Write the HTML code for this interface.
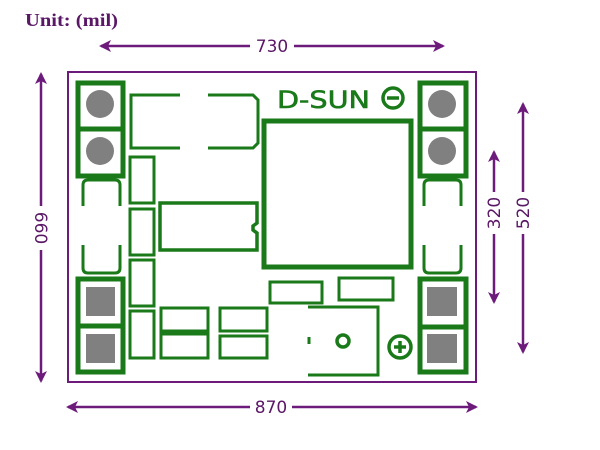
<!DOCTYPE html>
<html><head><meta charset="utf-8"><style>
html,body{margin:0;padding:0;background:#fff;width:600px;height:450px;overflow:hidden}
</style></head><body>
<svg width="600" height="450" viewBox="0 0 600 450" xmlns="http://www.w3.org/2000/svg">
<text x="25" y="26" font-family="Liberation Serif, serif" font-size="18" font-weight="bold" fill="#5a1766" textLength="93" lengthAdjust="spacingAndGlyphs">Unit:  (mil)</text>
<g stroke="#6d1b7b" stroke-width="2.5" fill="none">
<rect x="68" y="72" width="408" height="310" stroke-width="2"/>
<line x1="101" y1="46" x2="250" y2="46"/>
<line x1="294" y1="46" x2="443" y2="46"/>
<line x1="68" y1="407" x2="250" y2="407"/>
<line x1="292" y1="407" x2="476" y2="407"/>
<line x1="41" y1="74" x2="41" y2="206"/>
<line x1="41" y1="250" x2="41" y2="381"/>
<line x1="494" y1="152" x2="494" y2="192"/>
<line x1="494" y1="234" x2="494" y2="302"/>
<line x1="523" y1="104" x2="523" y2="192"/>
<line x1="523" y1="234" x2="523" y2="352"/>
</g>
<g fill="#6d1b7b">
<polygon points="99,46 111,40 108,46 111,52"/>
<polygon points="445,46 433,40 436,46 433,52"/>
<polygon points="66,407 78,401 75,407 78,413"/>
<polygon points="478,407 466,401 469,407 466,413"/>
<polygon points="41,72 35,84 41,81 47,84"/>
<polygon points="41,383 35,371 41,374 47,371"/>
<polygon points="494,150 488,162 494,159 500,162"/>
<polygon points="494,304 488,292 494,295 500,292"/>
<polygon points="523,102 517,114 523,111 529,114"/>
<polygon points="523,354 517,342 523,345 529,342"/>
</g>
<g font-family="DejaVu Sans, sans-serif" font-size="17" fill="#5a1766" text-anchor="middle">
<text x="272" y="52">730</text>
<text x="271" y="413">870</text>
<text transform="translate(35,228) rotate(90)">660</text>
<text transform="translate(500,213) rotate(-90)">320</text>
<text transform="translate(529,213) rotate(-90)">520</text>
</g>
<g stroke="#1a7a1a" fill="none" stroke-width="5">
<rect x="78" y="83" width="45" height="93"/><line x1="78" y1="129" x2="123" y2="129"/>
<rect x="78" y="279" width="45" height="93"/><line x1="78" y1="326" x2="123" y2="326"/>
<rect x="420" y="83" width="46" height="93"/><line x1="420" y1="129" x2="466" y2="129"/>
<rect x="420" y="279" width="46" height="93"/><line x1="420" y1="327" x2="466" y2="327"/>
<rect x="264" y="121" width="147" height="146"/>
</g>
<g fill="#808080">
<circle cx="100" cy="104" r="14"/><circle cx="100" cy="151" r="14"/>
<circle cx="442" cy="104" r="14"/><circle cx="442" cy="151" r="14"/>
<rect x="86" y="287" width="29" height="29"/><rect x="86" y="334" width="29" height="29"/>
<rect x="427" y="287" width="30" height="29"/><rect x="427" y="334" width="30" height="29"/>
</g>
<g stroke="#1a7a1a" fill="none" stroke-width="3">
<path d="M180,95 H131 V148 H180"/>
<path d="M208,95 H253 L258,100 V143 L253,148 H208"/>
<path d="M83,206 V185 Q83,180 88,180 H115 Q120,180 120,185 V206"/>
<path d="M83,245 V268 Q83,273 88,273 H115 Q120,273 120,268 V245"/>
<path d="M424,206 V185 Q424,180 429,180 H456 Q461,180 461,185 V206"/>
<path d="M424,245 V268 Q424,273 429,273 H456 Q461,273 461,268 V245"/>
<rect x="130" y="157" width="24" height="46"/>
<rect x="130" y="209" width="24" height="46"/>
<rect x="130" y="260" width="24" height="46"/>
<rect x="130" y="311" width="24" height="47"/>
<path d="M160,203 H257 V223 L253,226 V230 L257,233 V250 H160 Z" stroke-width="3.5"/>
<rect x="161" y="308" width="47" height="23"/>
<rect x="161" y="334" width="47" height="24"/>
<rect x="220" y="308" width="47" height="23"/>
<rect x="220" y="336" width="47" height="22"/>
<rect x="270" y="282" width="52" height="21"/>
<rect x="339" y="278" width="54" height="22"/>
<path d="M308,307 H378 V375 H308"/>
<line x1="309" y1="337" x2="309" y2="344"/>
<circle cx="343" cy="341" r="6" stroke-width="3.5"/>
<circle cx="400" cy="347" r="11" stroke-width="3.5"/>
<line x1="394" y1="347" x2="406" y2="347" stroke-width="3.5"/><line x1="400" y1="341" x2="400" y2="353" stroke-width="3.5"/>
<circle cx="393" cy="98" r="10" stroke-width="3.5"/>
<line x1="387" y1="98" x2="399" y2="98" stroke-width="3.5"/>
</g>
<text x="277" y="108" font-family="DejaVu Sans, sans-serif" font-size="24" fill="#1a7a1a" textLength="93" lengthAdjust="spacingAndGlyphs" stroke="#1a7a1a" stroke-width="0.6">D-SUN</text>
</svg>
</body></html>
